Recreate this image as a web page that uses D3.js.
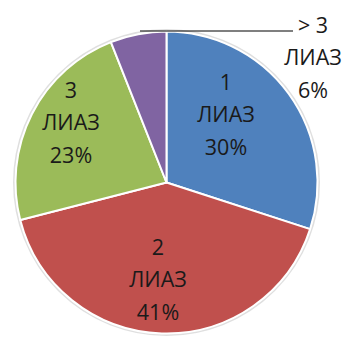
<!DOCTYPE html>
<html>
<head>
<meta charset="utf-8">
<script src="https://cdn.jsdelivr.net/npm/d3@7"></script>
<style>
  html, body { margin: 0; padding: 0; background: #ffffff; }
  svg { display: block; }
</style>
</head>
<body>
<svg id="chart" width="346" height="338"></svg>
<script>
// Share of buses by number of ЛИАЗ units
const categories = ["1", "2", "3", "> 3"];
const values = [30, 41, 23, 6];
const colors = ["#4F81BD", "#C0504D", "#9BBB59", "#8064A2"];

const svg = d3.select("#chart");
const cx = 166.5, cy = 182.5, r = 151;

const pie = d3.pie().sort(null).value(d => d.value);
const arcs = pie(categories.map((c, i) => ({ cat: c, value: values[i], color: colors[i] })));
const arc = d3.arc().innerRadius(0).outerRadius(r);

const g = svg.append("g").attr("transform", `translate(${cx},${cy})`);

// soft rim around the pie
g.append("circle").attr("r", r + 1.5)
  .attr("fill", "none").attr("stroke", "#d4d4d4").attr("stroke-width", 2).attr("opacity", 0.75);

g.selectAll("path.slice")
  .data(arcs)
  .join("path")
  .attr("class", "slice")
  .attr("d", arc)
  .attr("fill", d => d.data.color)
  .attr("stroke", "#ffffff")
  .attr("stroke-width", 2)
  .attr("stroke-linejoin", "round");

// label anchor (middle line baseline) relative to the pie centre
const labelPlace = {
  "1":   { x: 59.5,  y: -60.5 },
  "2":   { x: -8.5,  y: 104.5 },
  "3":   { x: -95.5, y: -52.5 },
  "> 3": { x: 146.5, y: -117.5 }
};
const lineH = 32.5;

const labels = g.selectAll("text.lbl")
  .data(arcs)
  .join("text")
  .attr("class", "lbl")
  .attr("text-anchor", "middle")
  .attr("font-family", "'Open Sans', 'Noto Sans', sans-serif")
  .attr("font-size", 21.5)
  .attr("fill", "#1a1a1a");

labels.each(function(d) {
  const p = labelPlace[d.data.cat];
  const t = d3.select(this);
  const lines = [d.data.cat, "ЛИАЗ", d3.format(".0f")(d.data.value) + "%"];
  lines.forEach((s, i) => {
    t.append("tspan").attr("x", p.x).attr("y", p.y + (i - 1) * lineH).text(s);
  });
});

// leader line running from the small slice to its label
g.append("line")
  .attr("x1", -26.5).attr("y1", -151.5)
  .attr("x2", 126.5).attr("y2", -151.5)
  .attr("stroke", "#000").attr("stroke-width", 1.2);
</script>
</body>
</html>
